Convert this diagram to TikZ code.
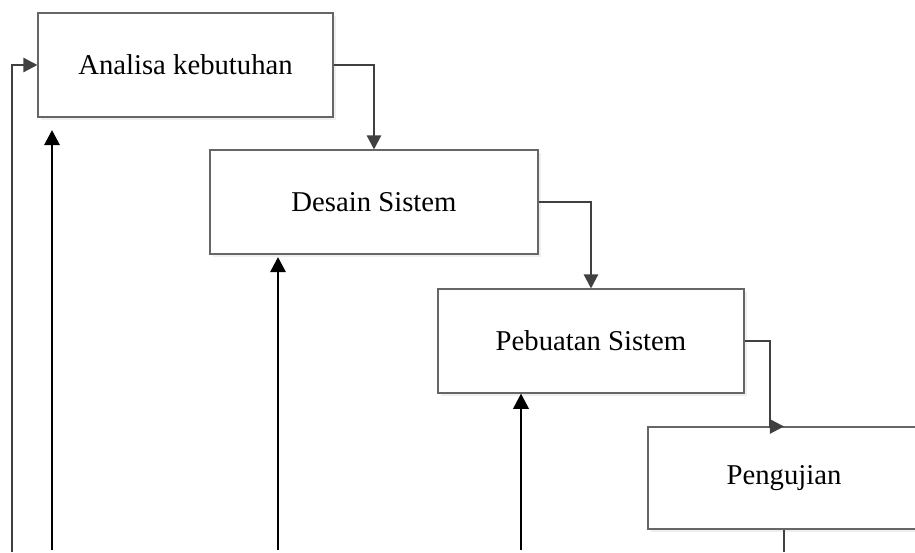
\documentclass[tikz,border=0pt]{standalone}
\usepackage{fontspec}
\setmainfont{Liberation Serif}
\usetikzlibrary{arrows.meta,shadows}

\begin{document}
\begin{tikzpicture}[x=0.03cm,y=-0.03cm,line width=1pt] % 1 unit = 1 pixel

\tikzstyle{tahap} = [draw=black!60,line width=0.9pt,fill=white,minimum height=3.12cm,
  font=\fontsize{24.5}{29}\selectfont,
  drop shadow={shadow xshift=0.08cm,shadow yshift=-0.08cm,fill=black!12}];
\tikzstyle{flow}=[-{Triangle[length=12pt,width=12pt]},draw=black!75,line width=2pt];
\tikzstyle{boldarrow}=[-{Triangle[length=13pt,width=13pt]},draw=black,line width=2.4pt];

\useasboundingbox (0,0) rectangle (915,552);
\clip (0,0) rectangle (915,552);

\node[tahap,minimum width=8.85cm] (v1) at (185.5,65) {Analisa kebutuhan};
\node[tahap,minimum width=9.84cm] (v2) at (374,202) {Desain Sistem};
\node[tahap,minimum width=9.18cm] (v3) at (591,341) {Pebuatan Sistem};
\node[tahap,minimum width=8.16cm,minimum height=3.06cm] (v4) at (784,478) {Pengujian};

\draw[flow] (v1.east) -| (v2.north);
\draw[flow] (v2.east) -| (v3.north);
\draw[flow] (v3.east) -| ([xshift=-0.42cm]v4.north) -- (v4.north);

% garis balik
\coordinate (f0) at (12,552);
\draw[flow] (f0) |- (v1.west);
\coordinate (f4) at (784,552);
\draw[draw=black!75,line width=2pt] (v4.south) -- (f4);

\coordinate (b1) at (52,550);
\coordinate (t1) at (52,130);
\coordinate (b2) at (278,550);
\coordinate (t2) at (278,257);
\coordinate (b3) at (521,550);
\draw[boldarrow] (b1) -- (t1);
\draw[boldarrow] (b2) -- (t2);
\draw[boldarrow] (b3) -- (v3.south -| b3);
\end{tikzpicture}
\end{document}
